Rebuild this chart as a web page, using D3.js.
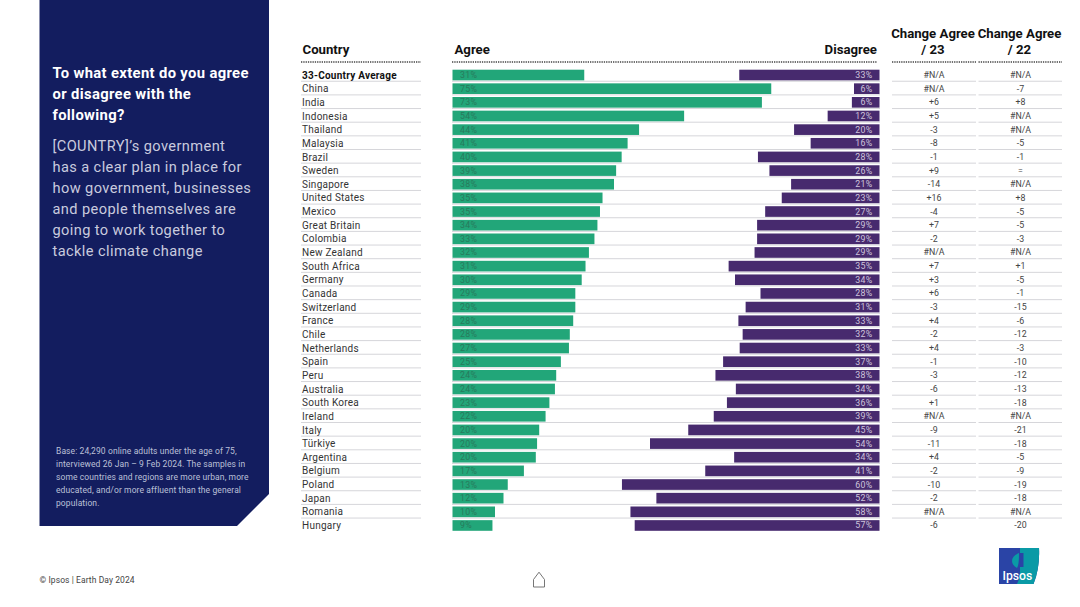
<!DOCTYPE html>
<html><head><meta charset="utf-8">
<script src="https://cdn.jsdelivr.net/npm/d3@7/dist/d3.min.js"></script>
<style>html,body{margin:0;padding:0;background:#fff}svg{display:block}text{font-family:Roboto,sans-serif}</style>
</head><body><svg id="c" width="1080" height="607"></svg>
<script>
const countries=["33-Country Average","China","India","Indonesia","Thailand","Malaysia","Brazil","Sweden","Singapore","United States","Mexico","Great Britain","Colombia","New Zealand","South Africa","Germany","Canada","Switzerland","France","Chile","Netherlands","Spain","Peru","Australia","South Korea","Ireland","Italy","Türkiye","Argentina","Belgium","Poland","Japan","Romania","Hungary"];
const agreeValues=[31,75,72.8,54.5,43.9,41.2,39.8,38.5,38,35.3,34.7,34.1,33.4,32.1,31.3,30.4,28.9,28.9,28.4,27.6,27.4,25.5,24.4,24.1,22.8,21.9,20.4,19.9,19.6,16.8,13,12,10,9.4];
const agreeLabels=["31%","75%","73%","54%","44%","41%","40%","39%","38%","35%","35%","34%","33%","32%","31%","30%","29%","29%","28%","28%","27%","25%","24%","24%","23%","22%","20%","20%","20%","17%","13%","12%","10%","9%"];
const disagreeValues=[33,6,6.5,12.2,20.1,16.2,28.6,25.9,20.8,23,26.9,28.8,28.8,29.4,35.5,34,28,31.5,33.2,32.2,32.9,36.8,38.6,33.8,35.9,39,45,54,34.2,41,60.6,52.5,58.6,57.6];
const disagreeLabels=["33%","6%","6%","12%","20%","16%","28%","26%","21%","23%","27%","29%","29%","29%","35%","34%","28%","31%","33%","32%","33%","37%","38%","34%","36%","39%","45%","54%","34%","41%","60%","52%","58%","57%"];
const change23=["#N/A","#N/A","+6","+5","-3","-8","-1","+9","-14","+16","-4","+7","-2","#N/A","+7","+3","+6","-3","+4","-2","+4","-1","-3","-6","+1","#N/A","-9","-11","+4","-2","-10","-2","#N/A","-6"];
const change22=["#N/A","-7","+8","#N/A","#N/A","-5","-1","=","#N/A","+8","-5","-5","-3","#N/A","+1","-5","-1","-15","-6","-12","-3","-10","-12","-13","-18","#N/A","-21","-18","-5","-9","-19","-18","#N/A","-20"];
const titleLines=["To what extent do you agree","or disagree with the","following?"];
const bodyLines=["[COUNTRY]’s government","has a clear plan in place for","how government, businesses","and people themselves are","going to work together to","tackle climate change"];
const noteLines=["Base: 24,290 online adults under the age of 75,","interviewed 26 Jan – 9 Feb 2024. The samples in","some countries and regions are more urban, more","educated, and/or more affluent than the general","population."];

const svg=d3.select("#c");
const navy="#131d5f",green="#22a679",purple="#472a6e";
const y=d3.scaleBand().domain(countries).range([68.2,532.3]).paddingInner(0.22).paddingOuter(0.11);
const xA=d3.scaleLinear().domain([0,100]).range([452.5,877.5]);
const xD=d3.scaleLinear().domain([0,100]).range([879.5,454.5]);

// panel
svg.append("path").attr("d","M39.5 0H269V494L237 526H39.5Z").attr("fill",navy);
const txt=(lines,x,y0,dy,size,weight,fill,ls)=>svg.append("g").selectAll("text").data(lines).join("text")
  .attr("x",x).attr("y",(d,i)=>y0+i*dy).attr("font-size",size).attr("font-weight",weight).attr("fill",fill)
  .attr("letter-spacing",ls||0).text(d=>d);
txt(titleLines,52.5,78,21,14.8,700,"#ffffff",0.35);
txt(bodyLines,52.5,150.5,21.1,14.6,400,"#c9cbde",0.4);
txt(noteLines,56,454,13,8.5,400,"#bcc0d8",0.1);
txt(["© Ipsos | Earth Day 2024"],39.5,583,0,8.5,400,"#444",0.08);

// headers
const head=(t,x,yy,anchor)=>svg.append("text").attr("x",x).attr("y",yy).attr("text-anchor",anchor||"start")
  .attr("font-size",13.2).attr("font-weight",700).attr("fill","#111").text(t);
head("Country",302.5,54);head("Agree",454.5,54);head("Disagree",877,54,"end");
head("Change Agree",933,38,"middle");head("/ 23",933,54,"middle");
head("Change Agree",1019.5,38,"middle");head("/ 22",1019.5,54,"middle");
const cols=[[301,421],[452,877],[892,976],[978.5,1062]];
svg.append("g").selectAll("line").data(cols).join("line")
  .attr("x1",d=>d[0]).attr("x2",d=>d[1]).attr("y1",62).attr("y2",62)
  .attr("stroke","#444").attr("stroke-width",1.6).attr("stroke-dasharray","1.3 1");

// row rules
const rows=countries.slice(0,-1);
const ruleY=d=>y(d)+y.bandwidth()+0.9;
const ruleCols=[[301,421],[452,880],[892,976],[978.5,1062]];
ruleCols.forEach(c=>svg.append("g").selectAll("line").data(rows).join("line")
  .attr("x1",c[0]).attr("x2",c[1]).attr("y1",ruleY).attr("y2",ruleY)
  .attr("stroke","#d6d6da").attr("stroke-width",1));

// bars
svg.append("g").selectAll("rect").data(countries).join("rect")
  .attr("x",xA(0)).attr("y",d=>y(d)).attr("height",y.bandwidth())
  .attr("width",(d,i)=>xA(agreeValues[i])-xA(0)).attr("fill",green);
svg.append("g").selectAll("rect").data(countries).join("rect")
  .attr("x",(d,i)=>xD(disagreeValues[i])).attr("y",d=>y(d)).attr("height",y.bandwidth())
  .attr("width",(d,i)=>xD(0)-xD(disagreeValues[i])).attr("fill",purple);

const mid=d=>y(d)+y.bandwidth()/2+3;
svg.append("g").selectAll("text").data(countries).join("text")
  .attr("x",460).attr("y",mid).attr("font-size",8.8).attr("fill","#287a5c").attr("letter-spacing",0.3)
  .text((d,i)=>agreeLabels[i]);
svg.append("g").selectAll("text").data(countries).join("text")
  .attr("x",872.5).attr("y",mid).attr("text-anchor","end").attr("font-size",8.8).attr("fill","#cdc4dc").attr("letter-spacing",0.3)
  .text((d,i)=>disagreeLabels[i]);

// country labels
svg.append("g").selectAll("text").data(countries).join("text")
  .attr("x",302).attr("y",d=>y(d)+y.bandwidth()/2+3.6).attr("font-size",10)
  .attr("font-weight",(d,i)=>i?400:700).attr("fill",(d,i)=>i?"#333":"#111").attr("letter-spacing",0.25).text(d=>d);

// change columns
[[change23,934],[change22,1020.5]].forEach(([vals,cx])=>svg.append("g").selectAll("text").data(countries).join("text")
  .attr("x",cx).attr("y",mid).attr("text-anchor","middle").attr("font-size",8.8).attr("fill","#444")
  .text((d,i)=>vals[i]));

// home icon
svg.append("path").attr("d","M533.5 579.5L539 572.2L544.5 579.5V587H533.5Z").attr("fill","none").attr("stroke","#666").attr("stroke-width",0.9);

// logo
const clip=svg.append("defs").append("clipPath").attr("id","lg");
clip.append("path").attr("d","M999 548H1039Q1040 568 1033.5 584H999Z");
const lg=svg.append("g").attr("clip-path","url(#lg)");
lg.append("rect").attr("x",999).attr("y",548).attr("width",41).attr("height",36).attr("fill","#2a44a6");
lg.append("path").attr("d","M1020 548H1040V584H1017Q1020 578 1020 570Z").attr("fill","#0a9aa6");
lg.append("path").attr("d","M1019 553Q1012 556 1012 561Q1012 565 1017 568Q1019 566 1019 553Z").attr("fill","#0a9aa6");
lg.append("rect").attr("x",1020).attr("y",553).attr("width",3.5).attr("height",14).attr("fill","#2a44a6");
svg.append("text").attr("x",1002.5).attr("y",579.5).attr("font-size",12.2).attr("font-weight",500).attr("fill","#fff").text("Ipsos");
</script></body></html>
